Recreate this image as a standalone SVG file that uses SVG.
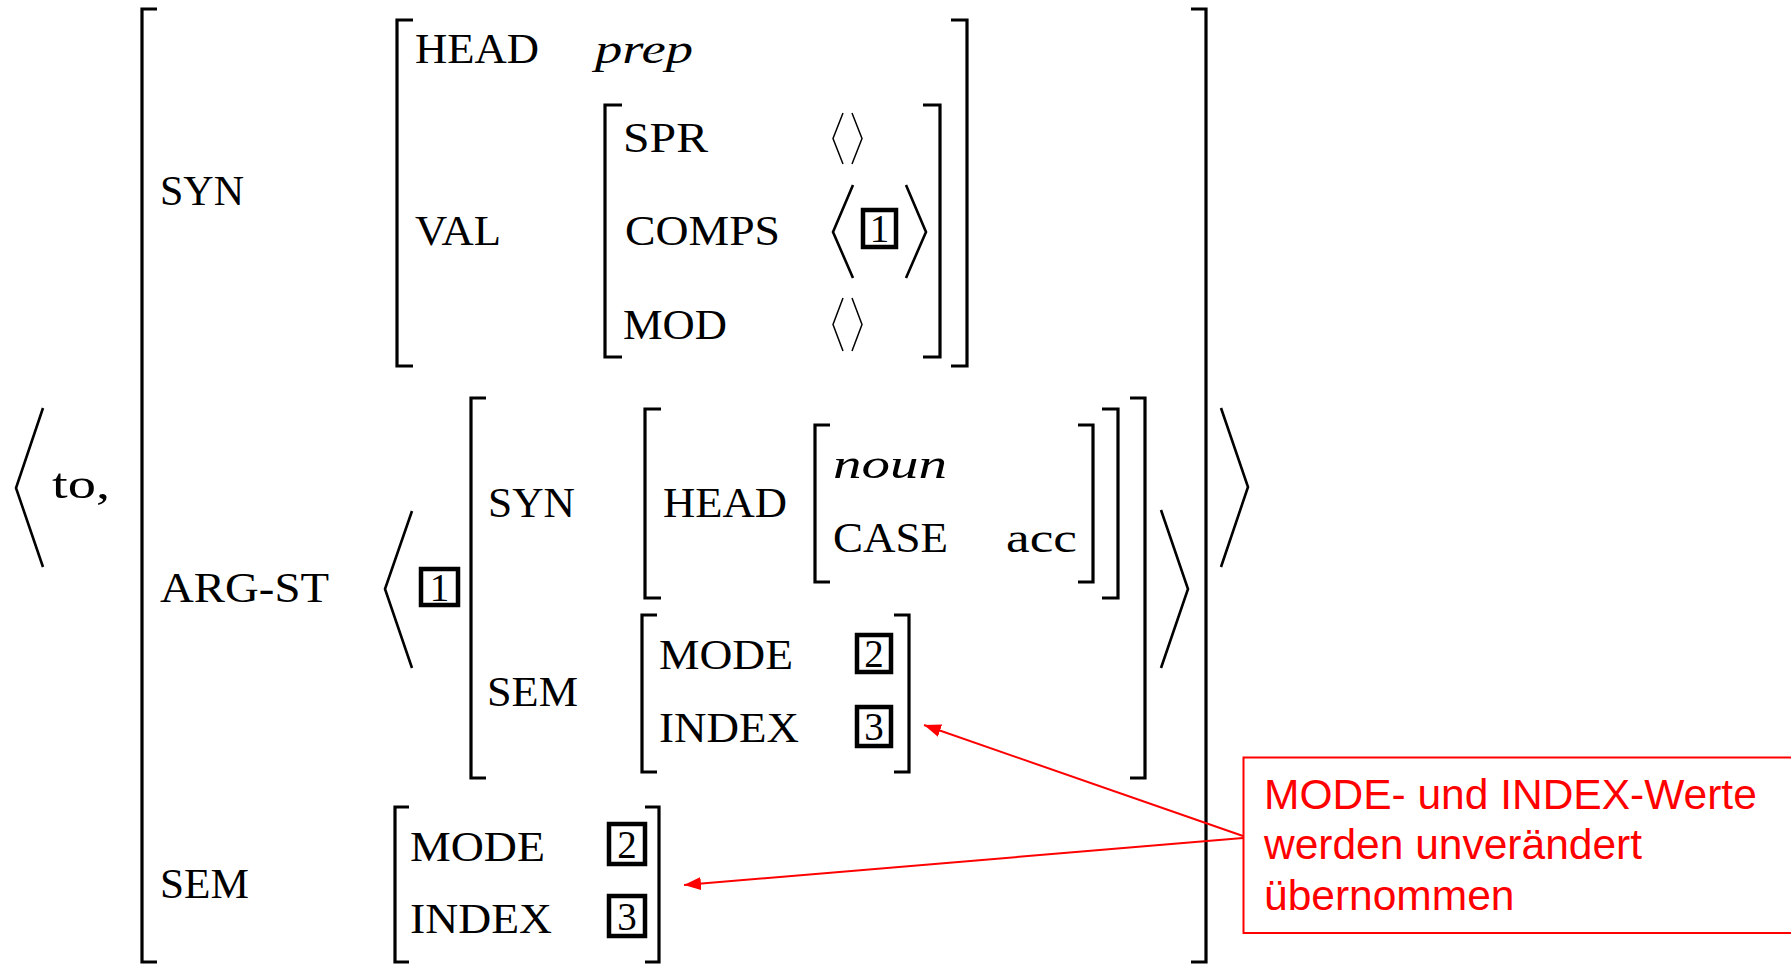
<svg xmlns="http://www.w3.org/2000/svg" width="1791" height="965" viewBox="0 0 1791 965">
<defs>
<style>
.br{fill:none;stroke:#000;stroke-width:3.2;stroke-linecap:butt;stroke-linejoin:miter}
.ang{fill:none;stroke:#000;stroke-width:2.6;stroke-linejoin:miter}
.sang{fill:none;stroke:#000;stroke-width:1.5}
.t{font-family:"Liberation Serif","Times New Roman",serif;font-size:42px;fill:#000}
.it{font-style:italic}
.tag{fill:none;stroke:#000;stroke-width:4.5}
.num{font-family:"Liberation Serif","Times New Roman",serif;font-size:39px;fill:#000;text-anchor:middle}
.note{font-family:"Liberation Sans",Arial,sans-serif;font-size:42.5px;fill:#ff0000}
.conn{fill:none;stroke:#ff0000;stroke-width:2}
</style>
<marker id="ah" markerUnits="userSpaceOnUse" markerWidth="18" markerHeight="14" refX="17" refY="6.5" orient="auto">
<path d="M0,0 L17,6.5 L0,13 z" fill="#ff0000"/>
</marker>
</defs>
<rect width="1791" height="965" fill="#fff"/>

<g id="outer">
<path class="ang" d="M43,408 L16,488 L43,567"/>
<text class="t" x="52" y="498" textLength="58" lengthAdjust="spacingAndGlyphs">to,</text>
<path class="br" d="M157,9 H142 V962 H157"/>
<path class="br" d="M1191,9 H1206 V962 H1191"/>
<path class="ang" d="M1221,408 L1248,487 L1221,567"/>
</g>

<g id="syn">
<text class="t" x="160" y="205" textLength="84" lengthAdjust="spacingAndGlyphs">SYN</text>
<path class="br" d="M413,20 H397 V366 H413"/>
<path class="br" d="M951,20 H967 V366 H951"/>
<text class="t" x="415" y="63" textLength="124" lengthAdjust="spacingAndGlyphs">HEAD</text>
<text class="t it" x="595" y="63" textLength="98" lengthAdjust="spacingAndGlyphs">prep</text>
<text class="t" x="415" y="245" textLength="86" lengthAdjust="spacingAndGlyphs">VAL</text>
</g>

<g id="val">
<path class="br" d="M622,105 H605 V357 H622"/>
<path class="br" d="M923,105 H940 V357 H923"/>
<text class="t" x="623" y="152" textLength="85" lengthAdjust="spacingAndGlyphs">SPR</text>
<path class="sang" d="M843,113 L833,138.5 L843,164 M852,113 L862,138.5 L852,164"/>
<text class="t" x="625" y="245" textLength="155" lengthAdjust="spacingAndGlyphs">COMPS</text>
<path class="ang" d="M853,185 L833,232 L853,278"/>
<rect class="tag" x="863" y="210" width="33" height="37"/>
<text class="num" x="879.5" y="242">1</text>
<path class="ang" d="M906,185 L926,232 L906,278"/>
<text class="t" x="623" y="339" textLength="104" lengthAdjust="spacingAndGlyphs">MOD</text>
<path class="sang" d="M843,298 L833,324.5 L843,351 M852,298 L862,324.5 L852,351"/>
</g>

<g id="arg-st">
<text class="t" x="160" y="602" textLength="169" lengthAdjust="spacingAndGlyphs">ARG-ST</text>
<path class="ang" d="M412,511 L385,589 L412,668"/>
<rect class="tag" x="421" y="569" width="37" height="36"/>
<text class="num" x="439.5" y="601">1</text>
<path class="br" d="M486,398 H471 V778 H486"/>
<path class="br" d="M1130,398 H1145 V778 H1130"/>
<path class="ang" d="M1161,510 L1188,589 L1161,668"/>
<text class="t" x="488" y="517" textLength="87" lengthAdjust="spacingAndGlyphs">SYN</text>
<text class="t" x="487" y="706" textLength="91" lengthAdjust="spacingAndGlyphs">SEM</text>
</g>

<g id="arg-syn">
<path class="br" d="M661,409 H645 V598 H661"/>
<path class="br" d="M1102,409 H1118 V598 H1102"/>
<text class="t" x="663" y="517" textLength="124" lengthAdjust="spacingAndGlyphs">HEAD</text>
<path class="br" d="M830,425 H815 V582 H830"/>
<path class="br" d="M1078,425 H1093 V582 H1078"/>
<text class="t it" x="833" y="478" textLength="114" lengthAdjust="spacingAndGlyphs">noun</text>
<text class="t" x="833" y="552" textLength="115" lengthAdjust="spacingAndGlyphs">CASE</text>
<text class="t" x="1006" y="552" textLength="71" lengthAdjust="spacingAndGlyphs">acc</text>
</g>

<g id="arg-sem">
<path class="br" d="M657,615 H642 V772 H657"/>
<path class="br" d="M894,615 H909 V772 H894"/>
<text class="t" x="659" y="669" textLength="134" lengthAdjust="spacingAndGlyphs">MODE</text>
<rect class="tag" x="857" y="635" width="34" height="37"/>
<text class="num" x="874" y="667">2</text>
<text class="t" x="659" y="742" textLength="140" lengthAdjust="spacingAndGlyphs">INDEX</text>
<rect class="tag" x="857" y="707" width="34" height="39"/>
<text class="num" x="874" y="740">3</text>
</g>

<g id="sem">
<text class="t" x="160" y="898" textLength="89" lengthAdjust="spacingAndGlyphs">SEM</text>
<path class="br" d="M409,807 H395 V962 H409"/>
<path class="br" d="M645,807 H659 V962 H645"/>
<text class="t" x="410" y="861" textLength="135" lengthAdjust="spacingAndGlyphs">MODE</text>
<rect class="tag" x="609" y="824" width="36" height="40"/>
<text class="num" x="627" y="858">2</text>
<text class="t" x="410" y="933" textLength="142" lengthAdjust="spacingAndGlyphs">INDEX</text>
<rect class="tag" x="609" y="896" width="36" height="40"/>
<text class="num" x="627" y="930">3</text>
</g>

<g id="note">
<rect x="1243.5" y="757.5" width="1543" height="175.5" fill="none" stroke="#ff0000" stroke-width="2"/>
<text class="note" x="1264" y="809">MODE- und INDEX-Werte</text>
<text class="note" x="1264" y="859">werden unverändert</text>
<text class="note" x="1264" y="910">übernommen</text>
</g>

<g id="connectors">
<line class="conn" x1="1243" y1="836" x2="924" y2="725" marker-end="url(#ah)"/>
<line class="conn" x1="1243" y1="838" x2="684" y2="885" marker-end="url(#ah)"/>
</g>
</svg>
